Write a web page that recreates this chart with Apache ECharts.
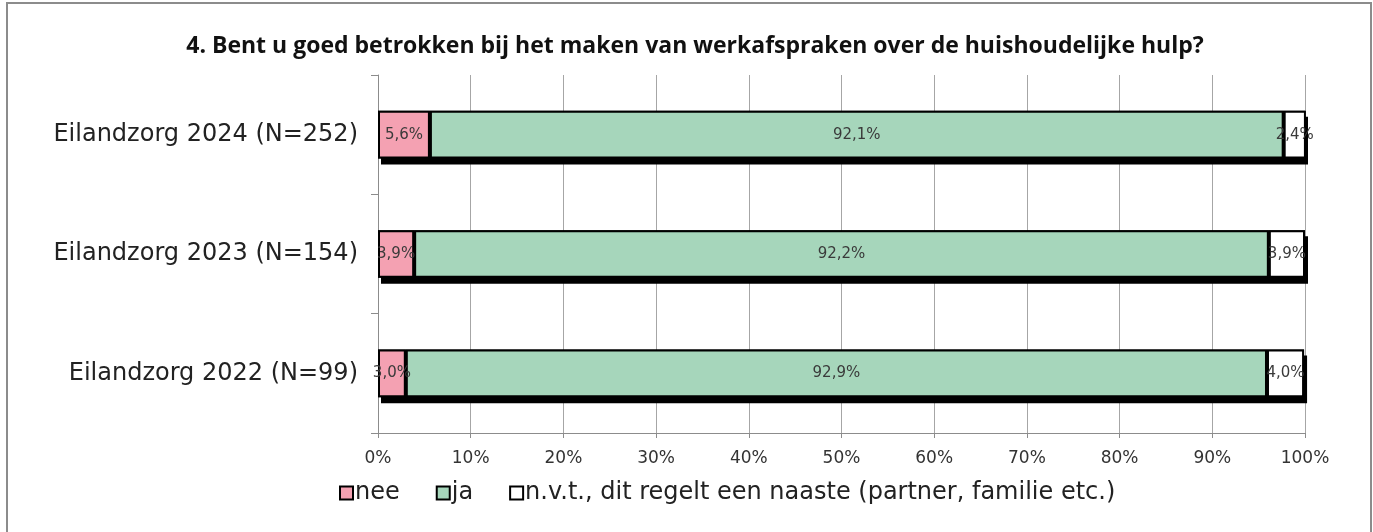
<!DOCTYPE html>
<html>
<head>
<meta charset="utf-8">
<script src="https://cdn.jsdelivr.net/npm/echarts@6/dist/echarts.min.js"></script>
<style>
  html, body { margin: 0; padding: 0; background: #fff; }
  #chart { width: 1373px; height: 532px; }
</style>
</head>
<body>
<div id="chart"></div>
<script>
  var TITLE = "4. Bent u goed betrokken bij het maken van werkafspraken over de huishoudelijke hulp?";
  var CATEGORIES = ["Eilandzorg 2024 (N=252)", "Eilandzorg 2023 (N=154)", "Eilandzorg 2022 (N=99)"];
  var SERIES_NAMES = ["nee", "ja", "n.v.t., dit regelt een naaste (partner, familie etc.)"];
  var NEE = [5.6, 3.9, 3.0];
  var JA = [92.1, 92.2, 92.9];
  var NVT = [2.4, 3.9, 4.0];
  var COLORS = ["#f4a1b2", "#a6d6bb", "#ffffff"];

  // totaal per rij, alleen voor de zwarte schaduw onder de balk
  var TOTALS = NEE.map(function (v, i) { return v + JA[i] + NVT[i]; });

  var chart = echarts.init(document.getElementById("chart"), null, { renderer: "canvas" });

  function pct(p) { return p.value.toFixed(1).replace(".", ",") + "%"; }

  function serie(name, data, color) {
    return {
      name: name, type: "bar", stack: "tot", barWidth: "40%", barGap: "-100%", z: 3, data: data,
      itemStyle: { color: color, borderColor: "#000", borderWidth: 2 },
      label: {
        show: true, position: "inside", formatter: pct, overflow: "none",
        color: "#3a3a3a", fontSize: 15, fontFamily: "DejaVu Sans, sans-serif"
      }
    };
  }

  chart.setOption({
    animation: false,
    backgroundColor: "#fff",
    graphic: [{
      type: "rect", shape: { x: 7, y: 3, width: 1364, height: 540 },
      style: { fill: "none", stroke: "#8c8c8c", lineWidth: 2 }, silent: true
    }],
    title: {
      text: TITLE, left: 690, top: 30, textAlign: "center",
      textStyle: { fontSize: 23, fontWeight: "bold", color: "#111", fontFamily: "Open Sans, sans-serif" }
    },
    legend: {
      data: SERIES_NAMES,
      bottom: 22, left: 334, itemGap: 36, itemWidth: 13, itemHeight: 13, icon: "rect",
      textStyle: { fontSize: 24, color: "#222", fontFamily: "DejaVu Sans, sans-serif", padding: [0, 0, 0, -3] },
      itemStyle: { borderColor: "#000", borderWidth: 2 }
    },
    grid: { left: 378, right: 68, top: 75, bottom: 99, containLabel: false },
    xAxis: {
      type: "value", min: 0, max: 100, interval: 10,
      axisLine: { show: true, lineStyle: { color: "#8c8c8c" } },
      axisTick: { show: true, length: 5, lineStyle: { color: "#8c8c8c" } },
      splitLine: { lineStyle: { color: "#a6a6a6", width: 1 } },
      axisLabel: {
        formatter: "{value}%", color: "#333", fontSize: 17, margin: 17,
        fontFamily: "DejaVu Sans, sans-serif"
      }
    },
    yAxis: {
      type: "category", data: CATEGORIES, inverse: true,
      axisLine: { show: true, lineStyle: { color: "#8c8c8c" } },
      axisTick: { show: true, length: 7, lineStyle: { color: "#8c8c8c" } },
      axisLabel: {
        color: "#222", fontSize: 24, margin: 20,
        fontFamily: "DejaVu Sans, sans-serif"
      }
    },
    series: [
      {
        name: "schaduw", type: "bar", barWidth: "40%", barGap: "-100%", z: 1, silent: true,
        data: TOTALS,
        itemStyle: { color: "#000", shadowColor: "#000", shadowOffsetX: 3, shadowOffsetY: 6, shadowBlur: 0 },
        label: { show: false }
      },
      serie(SERIES_NAMES[0], NEE, COLORS[0]),
      serie(SERIES_NAMES[1], JA, COLORS[1]),
      serie(SERIES_NAMES[2], NVT, COLORS[2])
    ]
  });
</script>
</body>
</html>
